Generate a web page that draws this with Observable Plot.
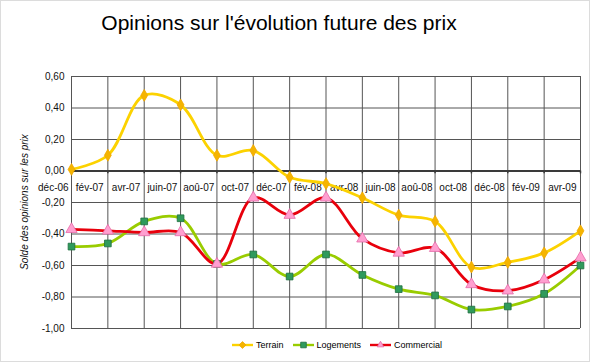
<!DOCTYPE html>
<html>
<head>
<meta charset="utf-8">
<script src="https://cdn.jsdelivr.net/npm/d3@7"></script>
<script src="https://cdn.jsdelivr.net/npm/@observablehq/plot@0.6"></script>
<style>
  html, body { margin: 0; padding: 0; background: #fff; }
  #wrap { position: relative; width: 590px; height: 362px; overflow: hidden; font-family: "Liberation Sans", Arial, sans-serif; }
  #border { position: absolute; left: 0; top: 0; width: 588px; height: 360px; border: 1px solid #dcdcdc; pointer-events: none; }
  #title { position: absolute; left: 0; width: 558px; top: 11px; text-align: center; font-size: 21px; color: #000; }
  #ytitle { position: absolute; left: 25px; top: 202px; width: 200px; margin-left: -100px; margin-top: -6px; height: 12px; line-height: 12px; text-align: center; font-size: 10px; font-style: italic; color: #111; transform: rotate(-90deg); white-space: nowrap; }
  #legend { position: absolute; top: 340px; left: 232px; font-size: 9px; color: #000; display: flex; align-items: center; }
  #legend span.item { display: inline-flex; align-items: center; margin-right: 9px; }
  #legend svg { margin-right: 3px; }
  #chart { position: absolute; left: 0; top: 0; }
</style>
</head>
<body>
<div id="wrap">
  <div id="chart"></div>
  <div id="title">Opinions sur l'évolution future des prix</div>
  <div id="ytitle">Solde des opinions sur les prix</div>
  <div id="legend"></div>
  <div id="border"></div>
</div>
<script>
// ---- data ----
const periods = ["déc-06","fév-07","avr-07","juin-07","aoû-07","oct-07","déc-07","fév-08","avr-08","juin-08","aoû-08","oct-08","déc-08","fév-09","avr-09"];
const terrain    = [0.01, 0.10, 0.48, 0.42, 0.10, 0.13, -0.04, -0.08, -0.17, -0.28, -0.32, -0.61, -0.58, -0.52, -0.38];
const logements  = [-0.48, -0.46, -0.32, -0.30, -0.59, -0.53, -0.67, -0.53, -0.66, -0.75, -0.79, -0.88, -0.86, -0.78, -0.60];
const commercial = [-0.37, -0.38, -0.39, -0.39, -0.59, -0.17, -0.28, -0.17, -0.43, -0.52, -0.49, -0.72, -0.76, -0.69, -0.55];
const yTicks = [-1, -0.8, -0.6, -0.4, -0.2, 0, 0.2, 0.4, 0.6];
const seriesNames = ["Terrain", "Logements", "Commercial"];

const styles = {
  Terrain:    {line: "#fcd200", fill: "#f5b400", stroke: "#f0a800", symbol: "diamond", r: 3.6},
  Logements:  {line: "#99cc00", fill: "#2f9a5c", stroke: "#1e6e40", symbol: "square", r: 3.8},
  Commercial: {line: "#e8000c", fill: "#ff9fd0", stroke: "#e46aa8", symbol: "triangle", r: 4.2}
};

const idx = periods.map((_, i) => i);
const rows = [];
[terrain, logements, commercial].forEach((arr, k) => {
  arr.forEach((v, i) => rows.push({series: seriesNames[k], i, v}));
});
const labelRows = periods.map((p, i) => ({p, x: i - 0.5}));
const fmt = v => v.toFixed(2).replace(".", ",");

const marks = [
  Plot.ruleY(yTicks, {stroke: "#555", strokeWidth: 1}),
  Plot.ruleX(idx, {stroke: "#555", strokeWidth: 1}),
  Plot.ruleY([0], {stroke: "#3a3a3a", strokeWidth: 2.2}),
  Plot.ruleX(idx, {y1: 0, y2: -0.018, stroke: "#3a3a3a", strokeWidth: 1.5}),
  Plot.text(yTicks, {x: 0, y: d => d, text: d => fmt(d), textAnchor: "end", dx: -7, fontSize: 10, fill: "#111"}),
  Plot.text(labelRows, {x: "x", y: () => 0, text: "p", dy: 17, fontSize: 10, fill: "#111"})
];
seriesNames.forEach(name => {
  const s = styles[name];
  const d = rows.filter(r => r.series === name);
  marks.push(Plot.line(d, {x: "i", y: "v", stroke: s.line, strokeWidth: 2.8, curve: "catmull-rom"}));
});
seriesNames.forEach(name => {
  const s = styles[name];
  const d = rows.filter(r => r.series === name);
  marks.push(Plot.dot(d, {x: "i", y: "v", symbol: s.symbol, r: s.r, fill: s.fill, stroke: s.stroke, strokeWidth: 0.8}));
});

const chart = Plot.plot({
  width: 590,
  height: 362,
  marginLeft: 71,
  marginRight: 10,
  marginTop: 76,
  marginBottom: 34,
  style: {fontFamily: "'Liberation Sans', Arial, sans-serif", background: "transparent"},
  x: {type: "linear", domain: [0, 14], axis: null},
  y: {domain: [-1, 0.6], axis: null},
  marks
});
document.getElementById("chart").appendChild(chart);

// legend
const legend = document.getElementById("legend");
seriesNames.forEach(name => {
  const s = styles[name];
  const item = document.createElement("span");
  item.className = "item";
  const ns = "http://www.w3.org/2000/svg";
  const svg = document.createElementNS(ns, "svg");
  svg.setAttribute("width", "21"); svg.setAttribute("height", "10");
  const ln = document.createElementNS(ns, "line");
  ln.setAttribute("x1", 0); ln.setAttribute("x2", 21); ln.setAttribute("y1", 5); ln.setAttribute("y2", 5);
  ln.setAttribute("stroke", s.line); ln.setAttribute("stroke-width", 2.4);
  svg.appendChild(ln);
  const sym = d3.symbol().type(s.symbol === "diamond" ? d3.symbolDiamond2 : s.symbol === "square" ? d3.symbolSquare2 : d3.symbolTriangle2).size(s.symbol === "square" ? 40 : 30)();
  const p = document.createElementNS(ns, "path");
  p.setAttribute("d", sym); p.setAttribute("transform", "translate(10.5,5)");
  p.setAttribute("fill", s.fill); p.setAttribute("stroke", s.stroke); p.setAttribute("stroke-width", 0.8);
  svg.appendChild(p);
  item.appendChild(svg);
  const t = document.createElement("span");
  t.textContent = name;
  item.appendChild(t);
  legend.appendChild(item);
});
</script>
</body>
</html>
